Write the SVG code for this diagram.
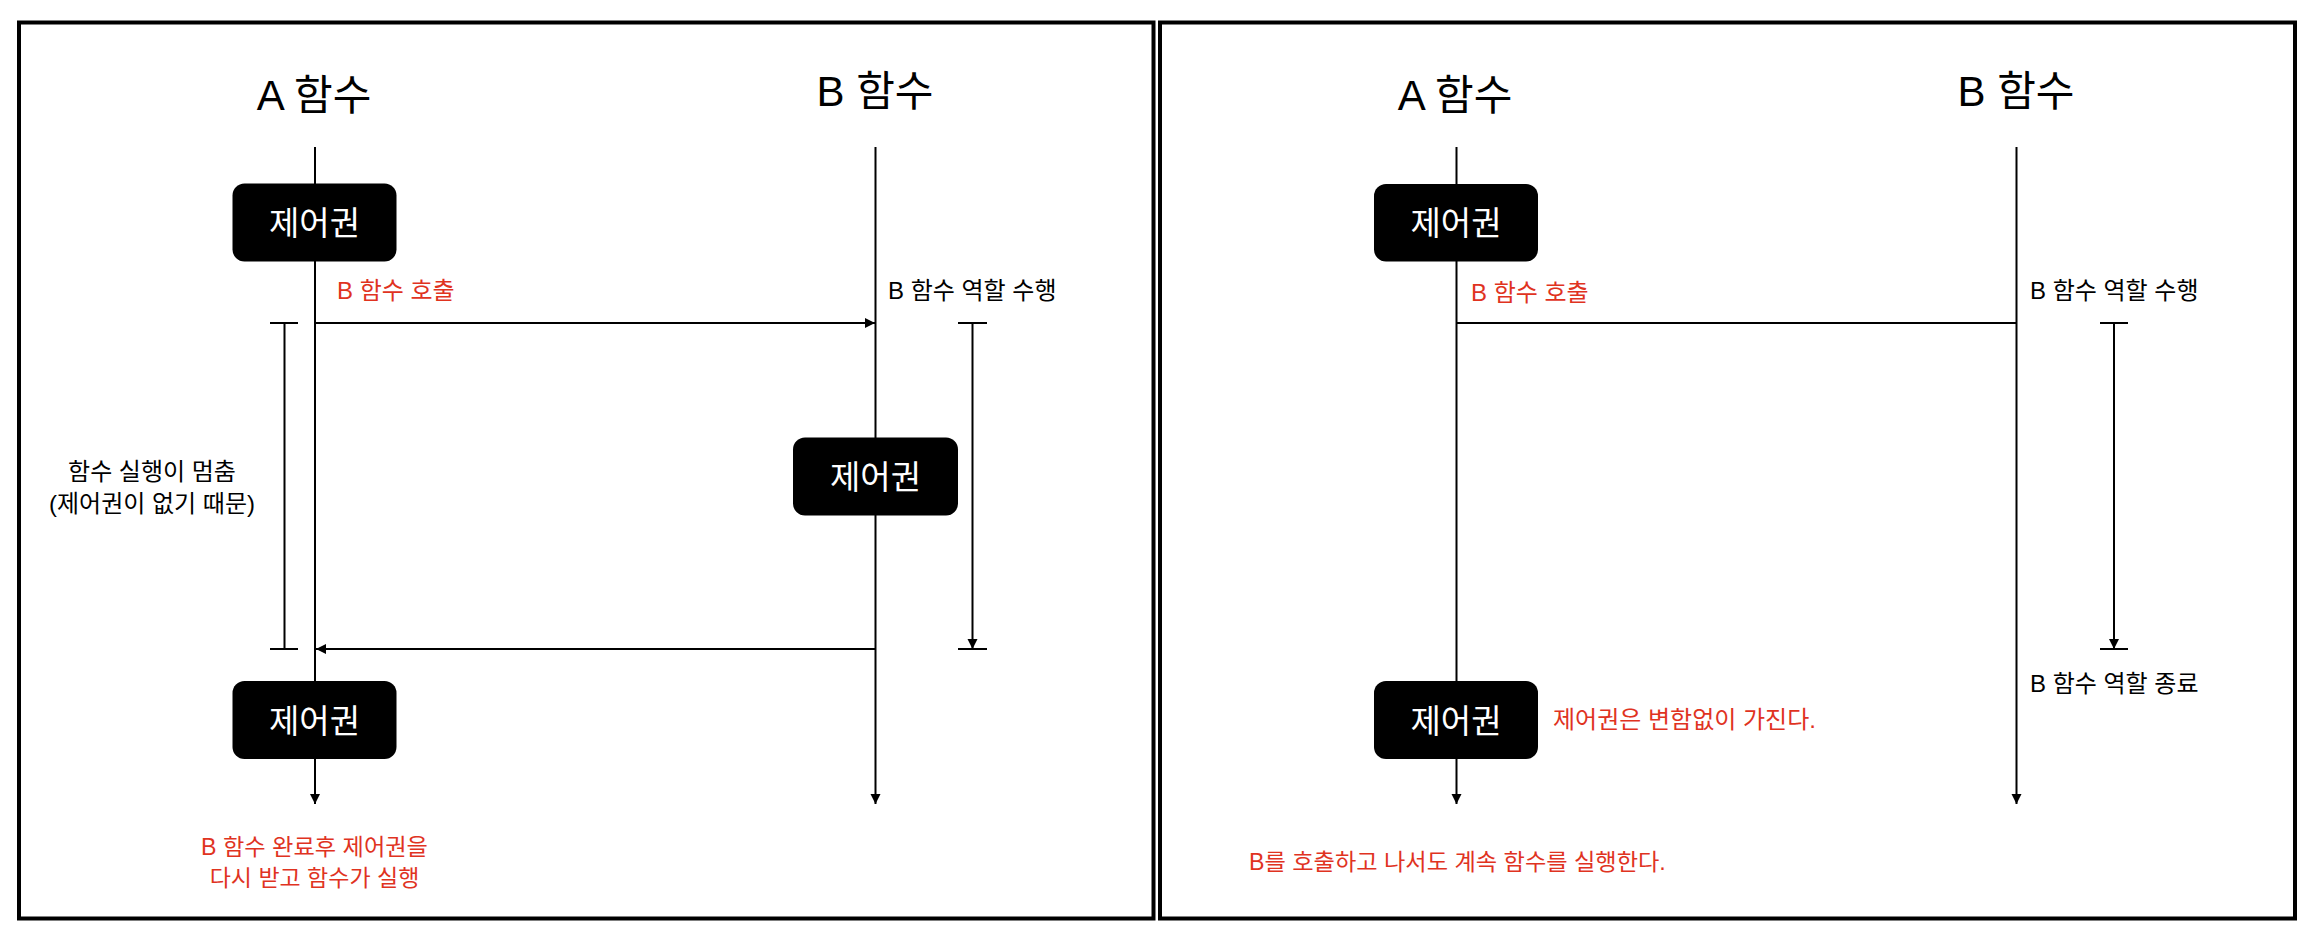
<svg xmlns="http://www.w3.org/2000/svg" width="2314" height="938" viewBox="0 0 2314 938">
<style>
text{font-family:'Liberation Sans','Noto Sans CJK KR',sans-serif;}
.frame{fill:none;stroke:#000;stroke-width:4;}
.title{font-size:42px;fill:#000;text-anchor:middle;}
.life{stroke:#000;stroke-width:2;fill:none;}
.box rect{fill:#000;}
.box text{fill:#fff;font-size:33px;text-anchor:middle;}
.lbl{font-size:24px;fill:#000;}
.red{font-size:23.5px;fill:#e0331f;}
.mid{text-anchor:middle;}
</style>
<defs>
<marker id="ah" markerUnits="userSpaceOnUse" markerWidth="10" markerHeight="11" refX="10" refY="5.5" orient="auto">
<path d="M0,0.5 L10,5.5 L0,10.5 z" fill="#000"/>
</marker>
</defs>
<rect class="frame" x="19" y="22.5" width="1134.5" height="896"/>
<rect class="frame" x="1160" y="22.5" width="1135" height="896"/>

<g id="titles">
<text class="title" x="314" y="110">A 함수</text>
<text class="title" x="875" y="106">B 함수</text>
<text class="title" x="1455" y="110">A 함수</text>
<text class="title" x="2016" y="106">B 함수</text>
</g>

<g id="connectors">
<line class="life" x1="315" y1="147" x2="315" y2="804" marker-end="url(#ah)"/>
<line class="life" x1="875.5" y1="147" x2="875.5" y2="804" marker-end="url(#ah)"/>
<line class="life" x1="315" y1="323" x2="875" y2="323" marker-end="url(#ah)"/>
<line class="life" x1="875.5" y1="649" x2="316" y2="649" marker-end="url(#ah)"/>
<line class="life" x1="270" y1="323" x2="298" y2="323"/>
<line class="life" x1="284.5" y1="323" x2="284.5" y2="649"/>
<line class="life" x1="270" y1="649" x2="298" y2="649"/>
<line class="life" x1="958" y1="323" x2="987" y2="323"/>
<line class="life" x1="972.5" y1="323" x2="972.5" y2="649" marker-end="url(#ah)"/>
<line class="life" x1="958" y1="649" x2="987" y2="649"/>

<line class="life" x1="1456.5" y1="147" x2="1456.5" y2="804" marker-end="url(#ah)"/>
<line class="life" x1="2016.5" y1="147" x2="2016.5" y2="804" marker-end="url(#ah)"/>
<line class="life" x1="1456.5" y1="323" x2="2016.5" y2="323"/>
<line class="life" x1="2100" y1="323" x2="2128" y2="323"/>
<line class="life" x1="2114" y1="323" x2="2114" y2="649" marker-end="url(#ah)"/>
<line class="life" x1="2100" y1="649" x2="2128" y2="649"/>
</g>

<g id="box-left-a1" class="box"><rect x="232.5" y="183.5" width="164" height="78" rx="12"/><text x="314.5" y="235">제어권</text></g>
<g id="box-left-b" class="box"><rect x="793" y="437.5" width="165" height="78" rx="12"/><text x="875.5" y="489">제어권</text></g>
<g id="box-left-a2" class="box"><rect x="232.5" y="681" width="164" height="78" rx="12"/><text x="314.5" y="732.5">제어권</text></g>
<g id="box-right-a1" class="box"><rect x="1374" y="184" width="164" height="77.5" rx="12"/><text x="1456" y="235">제어권</text></g>
<g id="box-right-a2" class="box"><rect x="1374" y="681" width="164" height="78" rx="12"/><text x="1456" y="732.5">제어권</text></g>

<g id="labels">
<text class="red" x="337" y="299" style="font-size:24px">B 함수 호출</text>
<text class="lbl" x="888" y="299">B 함수 역할 수행</text>
<text class="lbl mid" x="152" y="480">함수 실행이 멈춤</text>
<text class="lbl mid" x="152" y="512">(제어권이 없기 때문)</text>
<text class="red mid" x="314.5" y="855" style="font-size:23.2px">B 함수 완료후 제어권을</text>
<text class="red mid" x="314.5" y="886" style="font-size:23px">다시 받고 함수가 실행</text>

<text class="red" x="1471" y="301" style="font-size:24px">B 함수 호출</text>
<text class="lbl" x="2030" y="299">B 함수 역할 수행</text>
<text class="lbl" x="2030" y="692">B 함수 역할 종료</text>
<text class="red" x="1553" y="728" style="font-size:24px">제어권은 변함없이 가진다.</text>
<text class="red" x="1249" y="870" style="font-size:23.2px">B를 호출하고 나서도 계속 함수를 실행한다.</text>
</g>
</svg>
